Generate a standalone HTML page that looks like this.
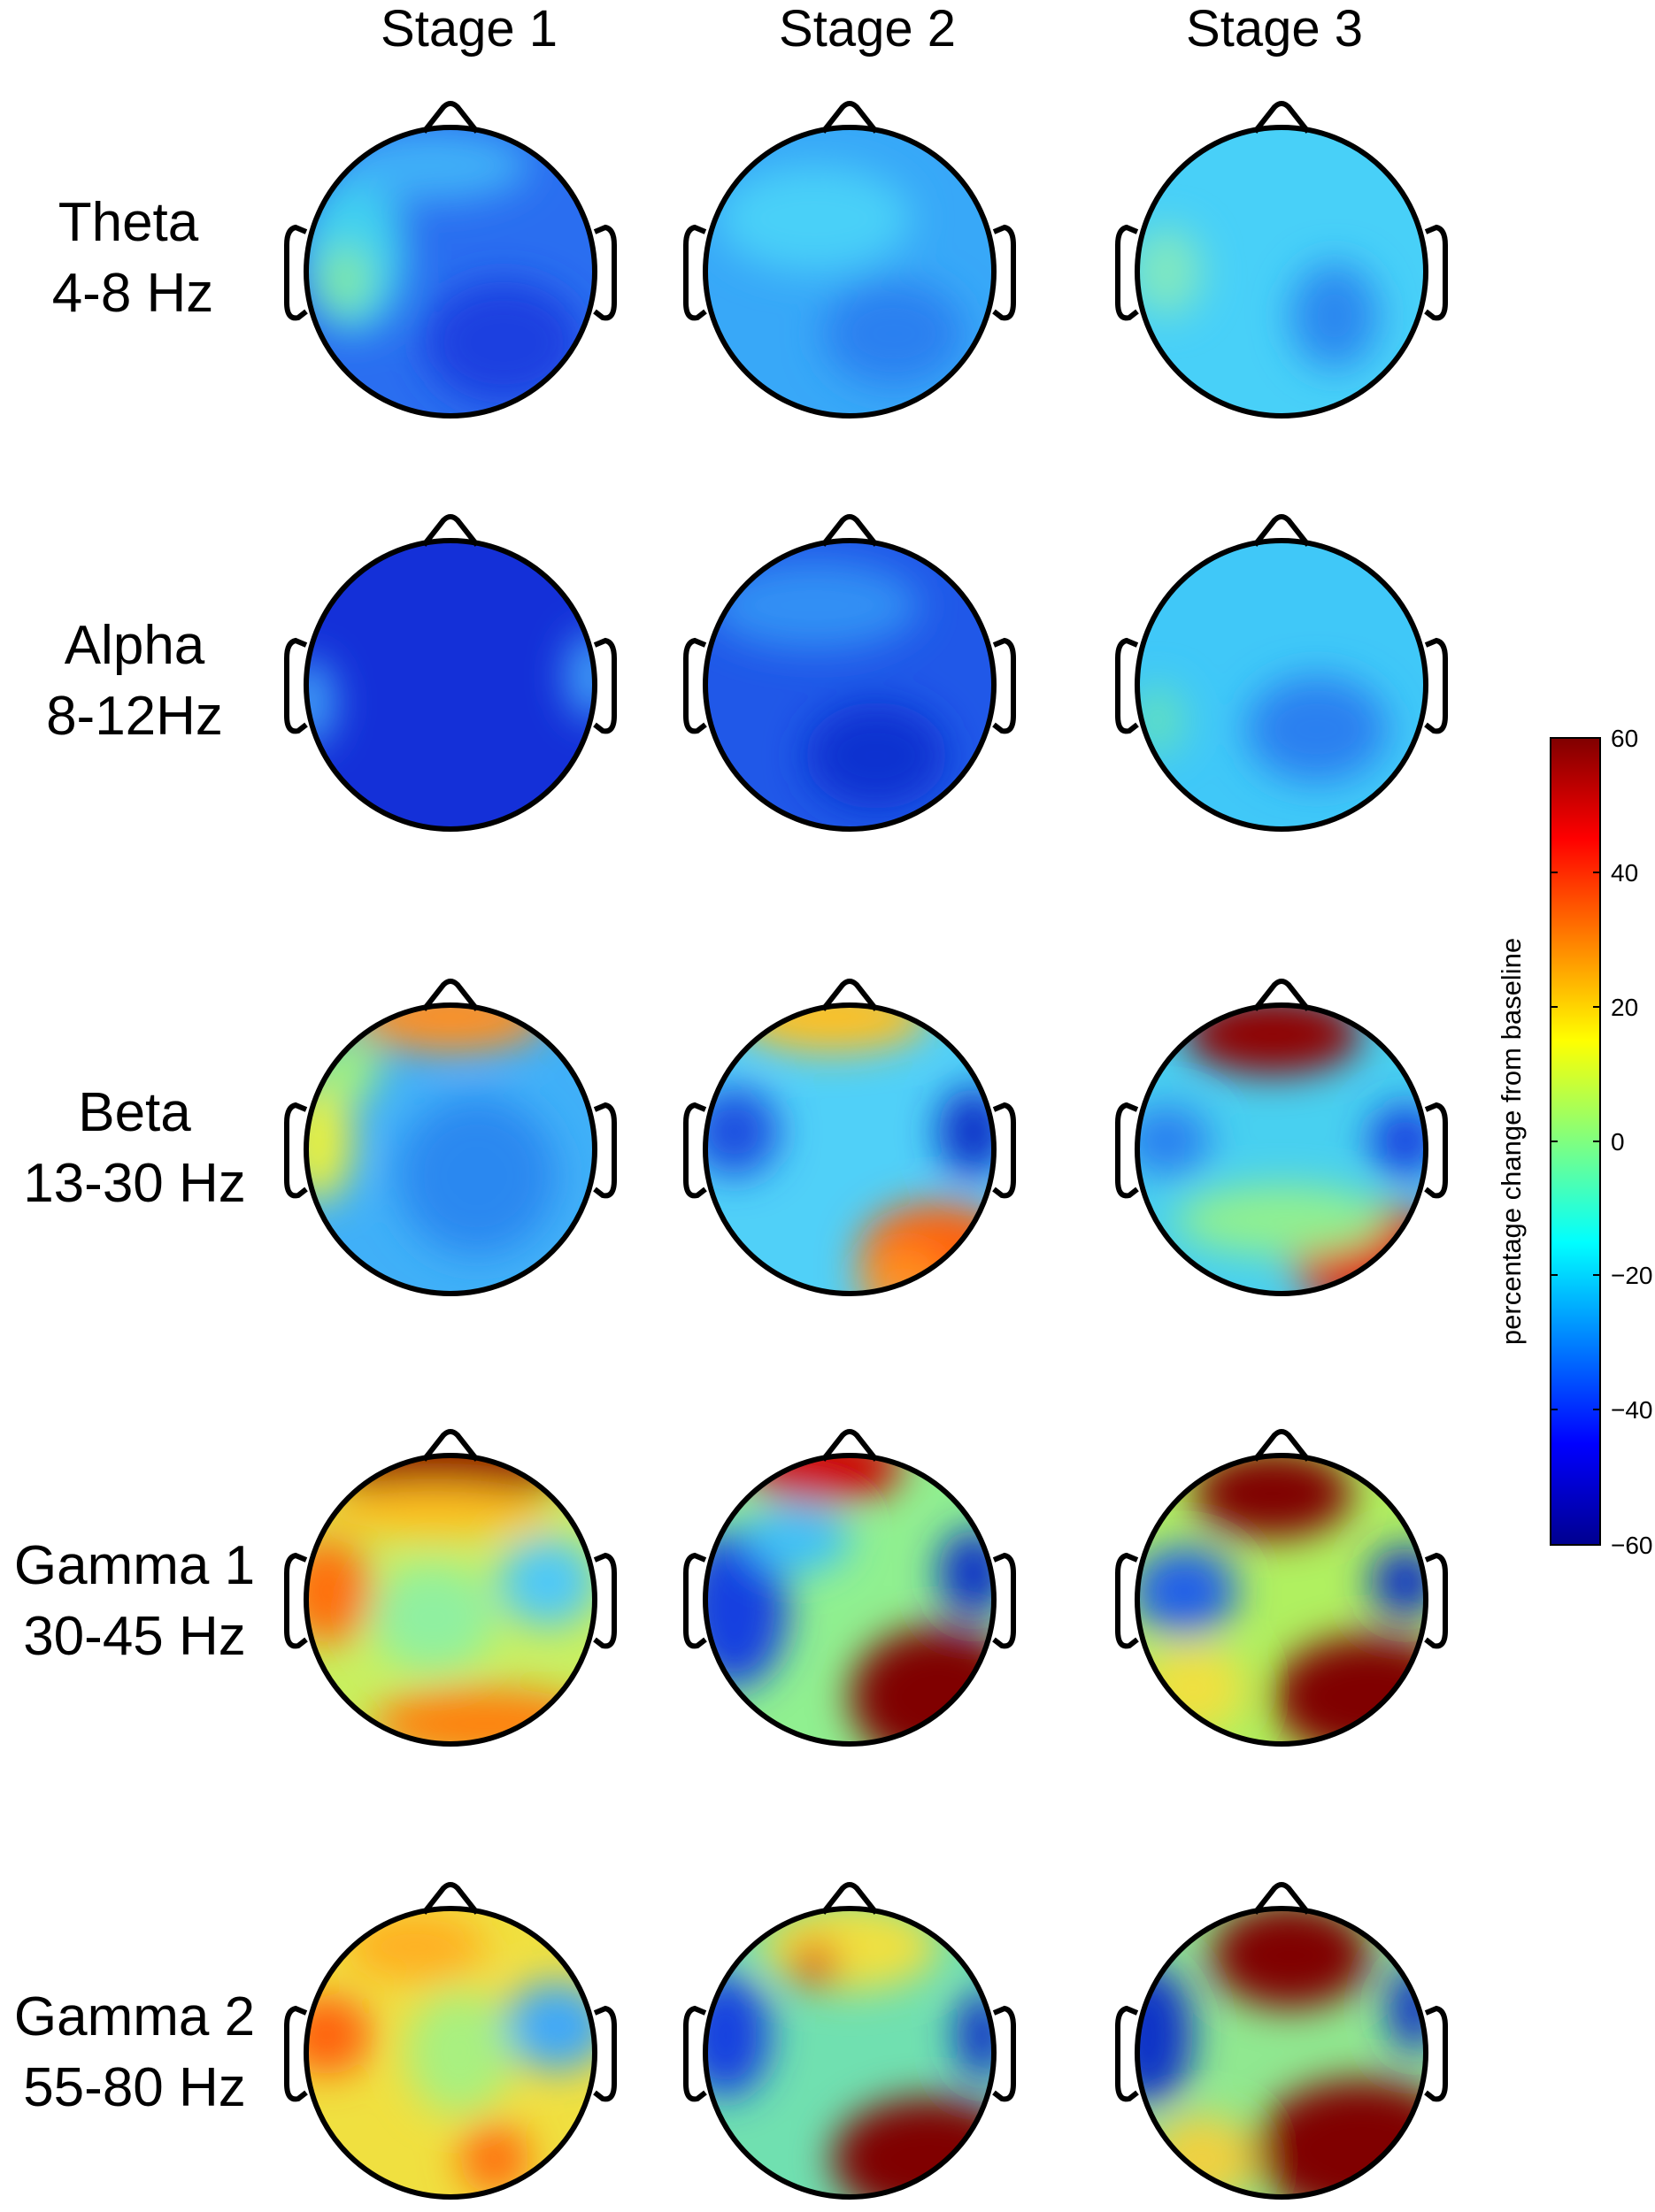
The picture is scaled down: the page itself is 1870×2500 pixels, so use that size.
<!DOCTYPE html>
<html><head><meta charset="utf-8"><style>
html,body{margin:0;padding:0;background:#fff}
svg{display:block}
text{font-family:"Liberation Sans",Arial,sans-serif;fill:#000}
</style></head><body>
<svg width="1870" height="2500" viewBox="0 0 1870 2500" xmlns="http://www.w3.org/2000/svg">
<defs>
<filter id="bl" x="-50%" y="-50%" width="200%" height="200%"><feGaussianBlur stdDeviation="22"/></filter>
<clipPath id="hc"><circle cx="0" cy="0" r="161"/></clipPath>
<linearGradient id="jet" x1="0" y1="1" x2="0" y2="0">
<stop offset="0" stop-color="#00008f"/><stop offset="0.125" stop-color="#0000ff"/>
<stop offset="0.375" stop-color="#00ffff"/><stop offset="0.625" stop-color="#ffff00"/>
<stop offset="0.875" stop-color="#ff0000"/><stop offset="1" stop-color="#800000"/>
</linearGradient>
<g id="outline" fill="none" stroke="#000" stroke-width="6">
<circle cx="0" cy="0" r="163"/>
<path d="M-30,-158 L-8,-186 Q0,-194 8,-186 L30,-158"/>
<path d="M-163,-45 L-175,-50 Q-185,-48 -185,-30 L-185,35 Q-185,55 -172,52 L-163,45"/>
<path d="M163,-45 L175,-50 Q185,-48 185,-30 L185,35 Q185,55 172,52 L163,45"/>
</g>
</defs>

<g font-size="58" text-anchor="middle">
<text x="530" y="52">Stage 1</text><text x="980" y="52">Stage 2</text><text x="1440" y="52">Stage 3</text>
</g>
<g font-size="62" text-anchor="middle">
<text x="145" y="272">Theta</text><text x="150" y="352">4-8 Hz</text>
<text x="152" y="750">Alpha</text><text x="152" y="830">8-12Hz</text>
<text x="152" y="1278">Beta</text><text x="152" y="1358">13-30 Hz</text>
<text x="152" y="1790">Gamma 1</text><text x="152" y="1870">30-45 Hz</text>
<text x="152" y="2300">Gamma 2</text><text x="152" y="2380">55-80 Hz</text>
</g>

<!-- Theta -->
<g transform="translate(509,307)"><g clip-path="url(#hc)"><rect x="-170" y="-170" width="340" height="340" fill="#2a6ef0"/><g filter="url(#bl)">
<ellipse cx="-110" cy="-20" rx="60" ry="90" fill="#40d0f0"/><ellipse cx="-20" cy="-120" rx="110" ry="40" fill="#40b0f8"/><ellipse cx="60" cy="80" rx="90" ry="70" fill="#1a40e0"/><ellipse cx="-120" cy="10" rx="30" ry="40" fill="#80e8a0"/></g></g><use href="#outline"/></g>
<g transform="translate(960,307)"><g clip-path="url(#hc)"><rect x="-170" y="-170" width="340" height="340" fill="#38a8f8"/><g filter="url(#bl)">
<ellipse cx="-40" cy="-60" rx="110" ry="60" fill="#48d0f8"/><ellipse cx="50" cy="70" rx="80" ry="60" fill="#2c80f0"/></g></g><use href="#outline"/></g>
<g transform="translate(1448,307)"><g clip-path="url(#hc)"><rect x="-170" y="-170" width="340" height="340" fill="#48d0f8"/><g filter="url(#bl)">
<ellipse cx="60" cy="50" rx="50" ry="60" fill="#2c88f0"/><ellipse cx="-130" cy="0" rx="40" ry="50" fill="#80e8c0"/></g></g><use href="#outline"/></g>

<!-- Alpha -->
<g transform="translate(509,774)"><g clip-path="url(#hc)"><rect x="-170" y="-170" width="340" height="340" fill="#1430d8"/><g filter="url(#bl)">
<ellipse cx="-160" cy="20" rx="30" ry="50" fill="#40a0f8"/><ellipse cx="160" cy="-10" rx="30" ry="50" fill="#40a0f8"/></g></g><use href="#outline"/></g>
<g transform="translate(960,774)"><g clip-path="url(#hc)"><rect x="-170" y="-170" width="340" height="340" fill="#2058e8"/><g filter="url(#bl)">
<ellipse cx="-40" cy="-90" rx="120" ry="50" fill="#3090f4"/><ellipse cx="30" cy="80" rx="80" ry="60" fill="#1030d0"/></g></g><use href="#outline"/></g>
<g transform="translate(1448,774)"><g clip-path="url(#hc)"><rect x="-170" y="-170" width="340" height="340" fill="#40c8f8"/><g filter="url(#bl)">
<ellipse cx="40" cy="50" rx="80" ry="60" fill="#2c80f0"/><ellipse cx="-140" cy="40" rx="30" ry="40" fill="#60e0c0"/></g></g><use href="#outline"/></g>

<!-- Beta -->
<g transform="translate(509,1299)"><g clip-path="url(#hc)"><rect x="-170" y="-170" width="340" height="340" fill="#40b0f8"/><g filter="url(#bl)">
<ellipse cx="0" cy="-150" rx="110" ry="40" fill="#ff9020"/><ellipse cx="-150" cy="-10" rx="40" ry="70" fill="#e8f040"/><ellipse cx="30" cy="30" rx="90" ry="90" fill="#2c88f0"/><ellipse cx="-120" cy="-90" rx="40" ry="40" fill="#a0f080"/></g></g><use href="#outline"/></g>
<g transform="translate(960,1299)"><g clip-path="url(#hc)"><rect x="-170" y="-170" width="340" height="340" fill="#50d0f8"/><g filter="url(#bl)">
<ellipse cx="-20" cy="-150" rx="110" ry="40" fill="#ffc020"/><ellipse cx="-130" cy="-20" rx="50" ry="50" fill="#1c50e0"/><ellipse cx="140" cy="-20" rx="40" ry="50" fill="#1030c8"/><ellipse cx="100" cy="120" rx="90" ry="60" fill="#ff6010"/><ellipse cx="60" cy="150" rx="50" ry="40" fill="#ff9020"/></g></g><use href="#outline"/></g>
<g transform="translate(1448,1299)"><g clip-path="url(#hc)"><rect x="-170" y="-170" width="340" height="340" fill="#48d0f0"/><g filter="url(#bl)">
<ellipse cx="-10" cy="-130" rx="100" ry="45" fill="#900000"/><ellipse cx="-130" cy="-10" rx="50" ry="40" fill="#2c80f0"/><ellipse cx="140" cy="-10" rx="40" ry="40" fill="#1840e0"/><ellipse cx="100" cy="120" rx="90" ry="60" fill="#e01000"/><ellipse cx="0" cy="80" rx="120" ry="40" fill="#90f090"/></g></g><use href="#outline"/></g>

<!-- Gamma 1 -->
<g transform="translate(509,1808)"><g clip-path="url(#hc)"><rect x="-170" y="-170" width="340" height="340" fill="#c8f060"/><g filter="url(#bl)">
<ellipse cx="0" cy="-160" rx="150" ry="45" fill="#900000"/><ellipse cx="-140" cy="-10" rx="50" ry="60" fill="#ff7010"/><ellipse cx="110" cy="-20" rx="55" ry="50" fill="#50c8f8"/><ellipse cx="40" cy="140" rx="130" ry="40" fill="#ff8010"/><ellipse cx="-20" cy="20" rx="70" ry="60" fill="#90f0a0"/><ellipse cx="-20" cy="-100" rx="140" ry="30" fill="#ffc020"/></g></g><use href="#outline"/></g>
<g transform="translate(960,1808)"><g clip-path="url(#hc)"><rect x="-170" y="-170" width="340" height="340" fill="#90f090"/><g filter="url(#bl)">
<ellipse cx="-30" cy="-150" rx="90" ry="40" fill="#d00000"/><ellipse cx="-130" cy="10" rx="60" ry="90" fill="#1840e0"/><ellipse cx="140" cy="-30" rx="40" ry="50" fill="#1030c8"/><ellipse cx="100" cy="110" rx="100" ry="80" fill="#800000"/><ellipse cx="-60" cy="-70" rx="60" ry="40" fill="#40c0f8"/></g></g><use href="#outline"/></g>
<g transform="translate(1448,1808)"><g clip-path="url(#hc)"><rect x="-170" y="-170" width="340" height="340" fill="#b0f060"/><g filter="url(#bl)">
<ellipse cx="-10" cy="-120" rx="90" ry="50" fill="#800000"/><ellipse cx="-110" cy="-10" rx="60" ry="50" fill="#2060e8"/><ellipse cx="140" cy="-20" rx="40" ry="40" fill="#1030c8"/><ellipse cx="100" cy="110" rx="110" ry="70" fill="#800000"/><ellipse cx="-100" cy="100" rx="60" ry="50" fill="#f0e040"/></g></g><use href="#outline"/></g>

<!-- Gamma 2 -->
<g transform="translate(509,2320)"><g clip-path="url(#hc)"><rect x="-170" y="-170" width="340" height="340" fill="#f0e040"/><g filter="url(#bl)">
<ellipse cx="-140" cy="-20" rx="50" ry="45" fill="#ff6010"/><ellipse cx="120" cy="-30" rx="60" ry="50" fill="#40a8f8"/><ellipse cx="10" cy="0" rx="60" ry="70" fill="#a8f080"/><ellipse cx="50" cy="120" rx="40" ry="40" fill="#ff7010"/><ellipse cx="-40" cy="-120" rx="80" ry="40" fill="#ffb020"/></g></g><use href="#outline"/></g>
<g transform="translate(960,2320)"><g clip-path="url(#hc)"><rect x="-170" y="-170" width="340" height="340" fill="#70e0b0"/><g filter="url(#bl)">
<ellipse cx="-140" cy="-20" rx="50" ry="70" fill="#1840e0"/><ellipse cx="150" cy="-20" rx="30" ry="50" fill="#1030c8"/><ellipse cx="90" cy="120" rx="110" ry="70" fill="#800000"/><ellipse cx="0" cy="-120" rx="100" ry="50" fill="#f0e040"/><ellipse cx="-40" cy="-100" rx="25" ry="25" fill="#e02000"/></g></g><use href="#outline"/></g>
<g transform="translate(1448,2320)"><g clip-path="url(#hc)"><rect x="-170" y="-170" width="340" height="340" fill="#90e890"/><g filter="url(#bl)">
<ellipse cx="10" cy="-110" rx="90" ry="60" fill="#800000"/><ellipse cx="-150" cy="-20" rx="50" ry="80" fill="#1030c8"/><ellipse cx="150" cy="-50" rx="30" ry="50" fill="#1030c8"/><ellipse cx="90" cy="110" rx="120" ry="80" fill="#800000"/><ellipse cx="-90" cy="120" rx="60" ry="50" fill="#f0d040"/></g></g><use href="#outline"/></g>

<!-- colorbar -->
<rect x="1752" y="834" width="56" height="912" fill="url(#jet)" stroke="#000" stroke-width="2"/>
<g stroke="#000" stroke-width="2">
<path d="M1752,986h8M1752,1138h8M1752,1290h8M1752,1441h8M1752,1593h8M1800,986h8M1800,1138h8M1800,1290h8M1800,1441h8M1800,1593h8"/>
</g>
<g font-size="28">
<text x="1820" y="844">60</text><text x="1820" y="996">40</text><text x="1820" y="1148">20</text><text x="1820" y="1300">0</text>
<text x="1820" y="1451">−20</text><text x="1820" y="1603">−40</text><text x="1820" y="1756">−60</text>
</g>
<text transform="translate(1718,1290) rotate(-90)" font-size="31" text-anchor="middle">percentage change from baseline</text>
</svg>
</body></html>
